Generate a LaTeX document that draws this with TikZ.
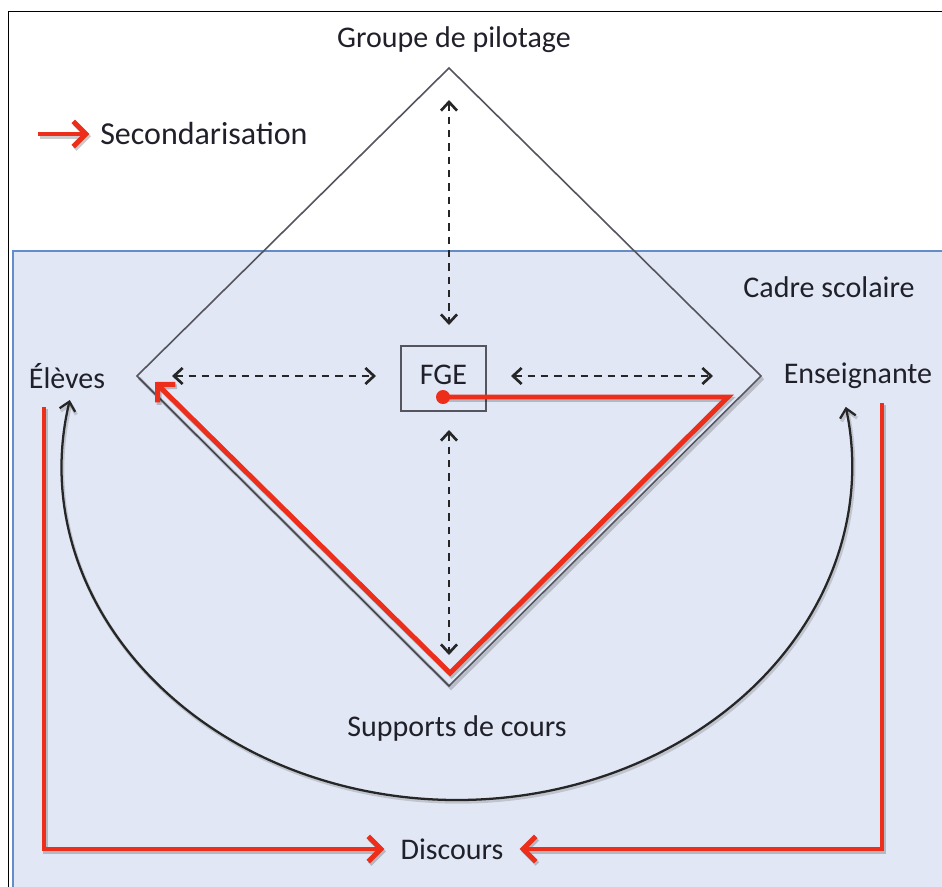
\documentclass[tikz,border=0pt]{standalone}
\usepackage{fontspec}
\setmainfont{Carlito}
\usetikzlibrary{arrows.meta}
\definecolor{redarr}{RGB}{236,46,26}
\definecolor{bgblue}{RGB}{225,231,244}
\definecolor{blueline}{RGB}{100,140,200}
\definecolor{txt}{RGB}{32,32,42}
\definecolor{diam}{RGB}{85,85,95}
\tikzset{
  dtip/.tip={Straight Barb[length=6.5pt,width=12pt]},
  rtip/.tip={Straight Barb[length=9.5pt,width=19pt]},
  lbl/.style={font=\fontsize{22.5}{27}\selectfont, text=txt, inner sep=0pt},
  dasharr/.style={draw=black!85, line width=2pt, dash pattern=on 5.5pt off 4.5pt, dtip-dtip},
  arcline/.style={draw=black!85, line width=1.7pt, dtip-dtip,
    preaction={draw=black, opacity=0.15, line width=2.5pt, transform canvas={shift={(1pt,-1.5pt)}}}},
  redline/.style={draw=redarr, line width=3.7pt, line join=miter,
    preaction={draw=black, opacity=0.2, line width=3.7pt, transform canvas={shift={(1.2pt,-1.8pt)}}}},
  diamline/.style={draw=diam, line width=1.2pt},
  fgebox/.style={draw=diam, line width=1.2pt, minimum width=63.75pt, minimum height=48.75pt, text depth=6pt, font=\fontsize{22.5}{27}\selectfont, text=txt}
}
\begin{document}
\begin{tikzpicture}[x=0.75pt,y=-0.75pt]
\useasboundingbox (0,0) rectangle (942,886);
\clip (0,0) rectangle (942,886);
\fill[white] (0,0) rectangle (942,886);
% frame
\draw[black, line width=1.3pt] (8.5,960) -- (8.5,11.5) -- (960,11.5);
% Cadre scolaire area
\filldraw[fill=bgblue, draw=blueline, line width=1.2pt] (13,251) rectangle (970,970);
% diamond
\coordinate (T) at (449,68);
\coordinate (L) at (137,376);
\coordinate (R) at (761,376);
\coordinate (B) at (449,686);
\draw[diamline] (T) -- (R) -- (B) -- (L) -- cycle;
\draw[draw=black, opacity=0.18, line width=2.5pt] ([shift={(2,2)}]R) -- ([shift={(2,2)}]B) -- ([shift={(2,2)}]L);
% labels
\node[lbl] (gp) at (454,40) {Groupe de pilotage};
\node[lbl, anchor=west, font=\fontsize{24}{28}\selectfont] (sec) at (100,134) {Secondarisation};
\node[lbl] (cadre) at (829,287) {Cadre scolaire};
\node[lbl] (eleves) at (67,376) {Élèves};
\node[lbl] (ens) at (858,376) {Enseignante};
\node[lbl] (sup) at (457,728) {Supports de cours};
\node[lbl] (disc) at (452,849) {Discours};
\node[fgebox] (fge) at (443.5,378.5) {FGE};
% dashed arrows
\coordinate (hl1) at (172,376);
\coordinate (hl2) at (376,376);
\coordinate (hr1) at (511,376);
\coordinate (hr2) at (713,376);
\coordinate (vt1) at (449,100);
\coordinate (vt2) at (449,325);
\coordinate (vb1) at (449,430);
\coordinate (vb2) at (449,655);
\draw[dasharr] (hl1) -- (hl2);
\draw[dasharr] (hr1) -- (hr2);
\draw[dasharr] (vt1) -- (vt2);
\draw[dasharr] (vb1) -- (vb2);
% big arc
\coordinate (arcL) at (69.8,400);
\draw[arcline] (arcL) arc[start angle=191.4, end angle=-10.2, x radius=395, y radius=334];
% red secondarisation path
\coordinate (dot) at (443,397);
\coordinate (rc) at (728,397);
\coordinate (rb) at (450,673);
\coordinate (rl) at (155,382);
\draw[redline, -rtip] (dot) -- (rc) -- (rb) -- (rl);
\fill[redarr] (dot) circle[radius=7];
% legend arrow
\coordinate (lg1) at (38,134);
\draw[redline, -rtip, shorten >=8pt] (lg1) -- (sec.west);
% discours arrows
\coordinate (el1) at (44,407);
\coordinate (en1) at (882,403);
\draw[redline, -rtip, shorten >=12] (el1) |- (disc.west);
\draw[redline, -rtip, shorten >=12] (en1) |- (disc.east);
\end{tikzpicture}
\end{document}
